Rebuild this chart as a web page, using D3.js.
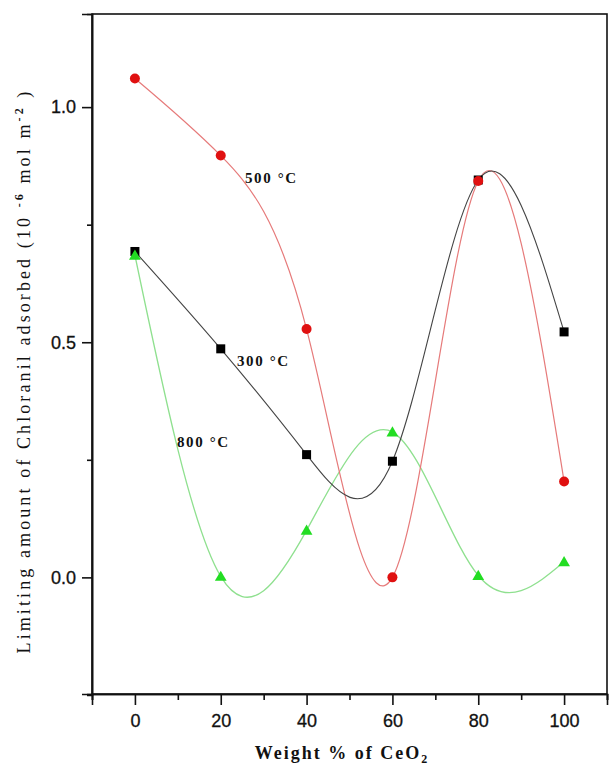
<!DOCTYPE html>
<html><head><meta charset="utf-8">
<script src="https://cdn.jsdelivr.net/npm/d3@7"></script>
<style>body{margin:0;background:#fff}svg{display:block}</style>
</head><body>
<svg id="c" width="609" height="766"></svg>
<script>
const weights = [0, 20, 40, 60, 80, 100];
const series300 = [0.693, 0.486, 0.261, 0.247, 0.845, 0.522];
const series500 = [1.061, 0.897, 0.528, 0.000, 0.843, 0.204];
const series800 = [0.685, 0.002, 0.100, 0.309, 0.004, 0.033];
const xMajorTicks = [0, 20, 40, 60, 80, 100];
const xMinorTicks = [-10, 10, 30, 50, 70, 90, 110];
const yMajorTicks = [0.0, 0.5, 1.0];
const yMinorTicks = [-0.25, 0.25, 0.75];
const labels = ["300 °C", "500 °C", "800 °C"];

const svg = d3.select("#c");
const L = 92, R = 607, T = 14, B = 694;
const x = d3.scaleLinear().domain([-10, 110]).range([L, R]);
const y = d3.scaleLinear().domain([-0.248, 1.198]).range([B, T]);

// frame
svg.append("rect").attr("x", L).attr("y", T).attr("width", R - L).attr("height", B - T)
  .attr("fill", "none").attr("stroke", "#111").attr("stroke-width", 1.6);

// axes
const xAxis = svg.append("g").attr("transform", `translate(0,${B})`)
  .call(d3.axisBottom(x).tickValues(xMajorTicks).tickSize(11).tickPadding(6).tickFormat(d3.format("d")));
const xMinor = svg.append("g").attr("transform", `translate(0,${B})`)
  .call(d3.axisBottom(x).tickValues(xMinorTicks).tickSize(6).tickFormat(""));
const yAxis = svg.append("g").attr("transform", `translate(${L},0)`)
  .call(d3.axisLeft(y).tickValues(yMajorTicks).tickSize(10).tickPadding(6).tickFormat(d3.format(".1f")));
const yMinor = svg.append("g").attr("transform", `translate(${L},0)`)
  .call(d3.axisLeft(y).tickValues(yMinorTicks).tickSize(5).tickFormat(""));
[xAxis, xMinor, yAxis, yMinor].forEach(g => {
  g.select(".domain").attr("stroke", "#111").attr("stroke-width", 1.6);
  g.selectAll(".tick line").attr("stroke", "#111").attr("stroke-width", 1.6);
  g.selectAll(".tick text").attr("font-family", "Liberation Sans, Arial, sans-serif")
    .attr("font-size", 18).attr("stroke", "#111").attr("stroke-width", 0.3).attr("fill", "#111");
});
xAxis.selectAll(".tick text").attr("dy", "0.9em");

// lines
const line = d3.line().x((d, i) => x(weights[i])).y(d => y(d)).curve(d3.curveNatural);
svg.append("path").attr("d", line(series800)).attr("fill", "none").attr("stroke", "#8fe08f").attr("stroke-width", 1.3);
svg.append("path").attr("d", line(series500)).attr("fill", "none").attr("stroke", "#e67a7a").attr("stroke-width", 1.2);
svg.append("path").attr("d", line(series300)).attr("fill", "none").attr("stroke", "#444").attr("stroke-width", 1.1);

// markers
svg.append("g").selectAll("rect").data(series300).join("rect")
  .attr("x", (d, i) => x(weights[i]) - 4.5).attr("y", d => y(d) - 4.5)
  .attr("width", 9).attr("height", 9).attr("fill", "#000");
svg.append("g").selectAll("circle").data(series500).join("circle")
  .attr("cx", (d, i) => x(weights[i])).attr("cy", d => y(d)).attr("r", 5).attr("fill", "#e01010");
const tri = d3.symbol().type(d3.symbolTriangle).size(60);
svg.append("g").selectAll("path").data(series800).join("path")
  .attr("d", tri).attr("transform", (d, i) => `translate(${x(weights[i])},${y(d) + 1})`)
  .attr("fill", "#22dd22");

// series labels
const labelPos = [[237, 366], [245, 183], [177, 447]];
labels.forEach((t, i) => {
  svg.append("text").attr("x", labelPos[i][0]).attr("y", labelPos[i][1])
    .attr("font-family", "Liberation Serif, Times New Roman, serif").attr("font-weight", "bold")
    .attr("font-size", 15).attr("letter-spacing", 1.6).attr("fill", "#111").text(t);
});

// x label
const xl = svg.append("text").attr("x", 342).attr("y", 759).attr("text-anchor", "middle")
  .attr("font-family", "Liberation Serif, Times New Roman, serif").attr("font-weight", "bold")
  .attr("font-size", 18).attr("letter-spacing", 2.0).attr("fill", "#111");
xl.append("tspan").text("Weight % of CeO");
xl.append("tspan").attr("dy", 4).attr("font-size", 12).text("2");

// y label
const yl = svg.append("text").attr("transform", "translate(30,371) rotate(-90)").attr("text-anchor", "middle")
  .attr("font-family", "Liberation Serif, Times New Roman, serif")
  .attr("font-size", 18).attr("letter-spacing", 3.1).attr("fill", "#111");
yl.append("tspan").text("Limiting amount of Chloranil adsorbed  (10 ");
yl.append("tspan").attr("dy", -7).attr("font-size", 12).attr("font-weight", "bold").text("-6");
yl.append("tspan").attr("dy", 7).text(" mol m");
yl.append("tspan").attr("dy", -7).attr("font-size", 12).attr("font-weight", "bold").text("-2");
yl.append("tspan").attr("dy", 7).text(" )");
</script>
</body></html>
